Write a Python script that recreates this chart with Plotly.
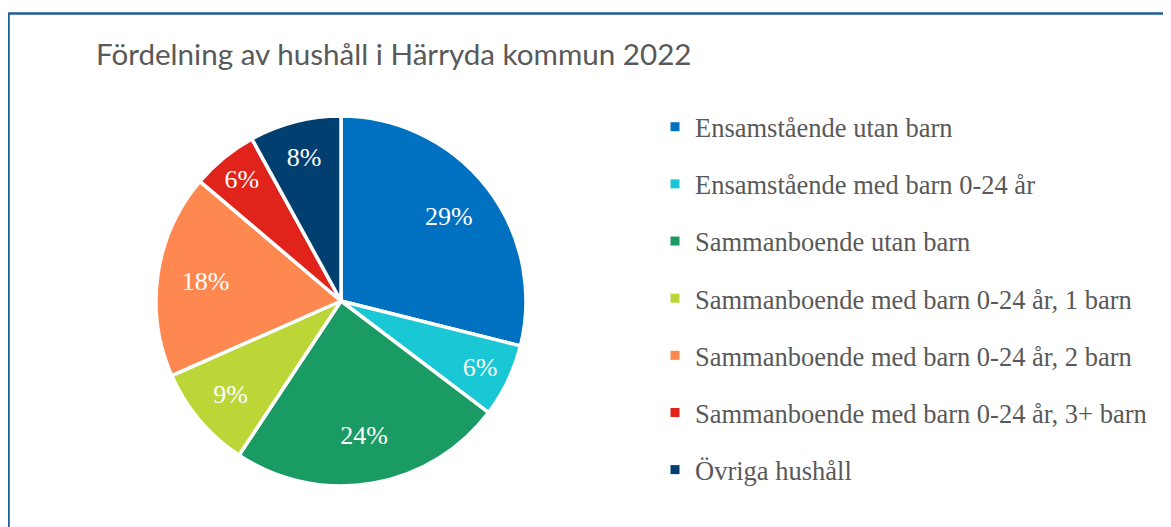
import plotly.graph_objects as go

W, H = 1171, 527
OFF = 8  # page body margin shifts the figure by 8px

categories = [
    "Ensamstående utan barn",
    "Ensamstående med barn 0-24 år",
    "Sammanboende utan barn",
    "Sammanboende med barn 0-24 år, 1 barn",
    "Sammanboende med barn 0-24 år, 2 barn",
    "Sammanboende med barn 0-24 år, 3+ barn",
    "Övriga hushåll",
]
shares = [28.9, 6.4, 24.0, 9.1, 17.8, 5.8, 8.0]
colors = ["#0070C0", "#19C8D4", "#1A9B63", "#BBD636", "#FF8850", "#E0241B", "#023F71"]

TEXT = "#595959"
SERIF = "Liberation Serif, Times New Roman, serif"


def px_x(p):
    return (p - OFF) / W


def px_y(p):
    return 1 - (p - OFF) / H


pie_domain = dict(x=[px_x(156), px_x(526)], y=[px_y(486), px_y(116)])

fig = go.Figure()
# filled slices
fig.add_trace(go.Pie(
    labels=categories, values=shares, sort=False,
    direction="clockwise", rotation=0,
    marker=dict(colors=colors, line=dict(color="white", width=3.5)),
    textinfo="none", showlegend=False,
    domain=pie_domain, hoverinfo="label+percent",
))
# transparent ring only used to place the percentage labels further out
fig.add_trace(go.Pie(
    labels=categories, values=shares, sort=False,
    direction="clockwise", rotation=0, hole=0.48,
    marker=dict(colors=["rgba(0,0,0,0)"] * len(shares), line=dict(width=0)),
    texttemplate="%{percent:.0%}", textposition="inside",
    insidetextorientation="horizontal",
    textfont=dict(family=SERIF, size=26, color="white"),
    showlegend=False, domain=pie_domain, hoverinfo="skip",
))

# legend entries (square markers) with even spacing
for name, c in zip(categories, colors):
    fig.add_trace(go.Scatter(
        x=[None], y=[None], mode="markers", name=name, legendgroup=name,
        marker=dict(symbol="square", size=9, color=c), hoverinfo="skip",
    ))

fig.update_layout(
    width=W, height=H,
    margin=dict(l=0, r=0, t=0, b=0),
    paper_bgcolor="white",
    plot_bgcolor="white",
    xaxis=dict(visible=False),
    yaxis=dict(visible=False),
    title=dict(
        text="Fördelning av hushåll i Härryda kommun 2022",
        font=dict(family="Lato, Open Sans, sans-serif", size=29.6, color=TEXT),
        x=px_x(96), xanchor="left", y=px_y(55), yanchor="middle",
    ),
    legend=dict(
        x=px_x(655), xanchor="left",
        y=px_y(103), yanchor="top",
        font=dict(family=SERIF, size=26.5, color=TEXT),
        tracegroupgap=19.7,
        bgcolor="rgba(0,0,0,0)",
    ),
    shapes=[dict(
        type="rect", xref="paper", yref="paper",
        x0=px_x(8.5), x1=1.05, y0=-0.05, y1=px_y(13.5),
        line=dict(color="#1F5F97", width=2.5),
        fillcolor="rgba(0,0,0,0)", layer="below",
    )],
)

fig.write_html("out.html")
